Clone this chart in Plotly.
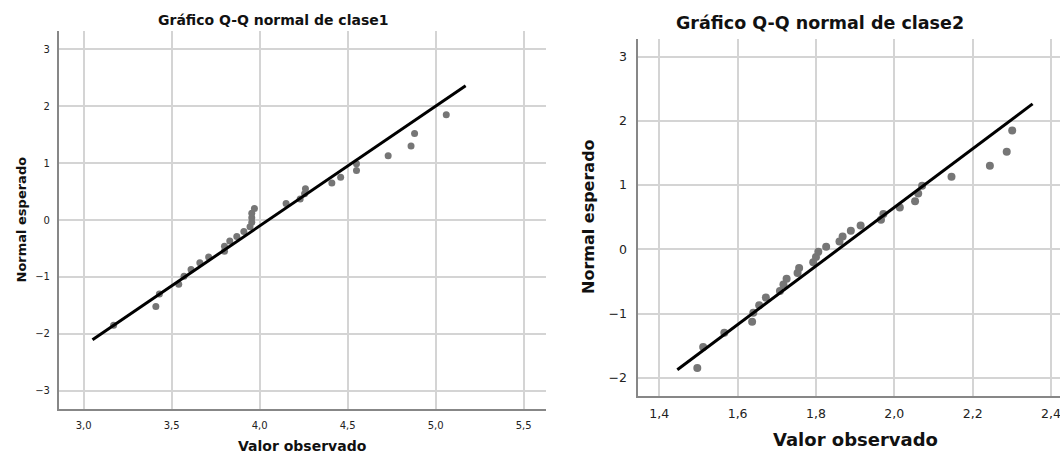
import numpy as np
import plotly.graph_objects as go

# ---- clase1: observed values and their expected normal scores ----
clase1_obs = [3.17, 3.41, 3.43, 3.54, 3.57, 3.61, 3.66, 3.71, 3.80, 3.80,
              3.83, 3.87, 3.91, 3.945, 3.955, 3.955, 3.955, 3.97, 4.15, 4.23,
              4.255, 4.26, 4.41, 4.46, 4.55, 4.55, 4.73, 4.86, 4.88, 5.06]
clase1_exp = [-1.85, -1.52, -1.30, -1.13, -0.99, -0.87, -0.75, -0.65, -0.55, -0.46,
              -0.37, -0.29, -0.20, -0.12, -0.04, 0.04, 0.12, 0.20, 0.29, 0.37,
              0.46, 0.55, 0.65, 0.75, 0.87, 0.99, 1.13, 1.30, 1.52, 1.85]
clase1_line_x = [3.05, 5.17]

# ---- clase2 ----
clase2_obs = [1.497, 1.512, 1.566, 1.637, 1.640, 1.655, 1.672, 1.708, 1.717, 1.725,
              1.753, 1.757, 1.793, 1.800, 1.806, 1.826, 1.860, 1.868, 1.889, 1.914,
              1.966, 1.972, 2.014, 2.053, 2.061, 2.071, 2.146, 2.244, 2.287, 2.301]
clase2_exp = [-1.85, -1.52, -1.30, -1.13, -0.99, -0.87, -0.75, -0.65, -0.55, -0.46,
              -0.37, -0.29, -0.20, -0.12, -0.04, 0.04, 0.12, 0.20, 0.29, 0.37,
              0.46, 0.55, 0.65, 0.75, 0.87, 0.99, 1.13, 1.30, 1.52, 1.85]
clase2_line_x = [1.446, 2.353]

x1_ticks = [3.0, 3.5, 4.0, 4.5, 5.0, 5.5]
y1_ticks = [-3, -2, -1, 0, 1, 2, 3]
x2_ticks = [1.4, 1.6, 1.8, 2.0, 2.2, 2.4]
y2_ticks = [-2, -1, 0, 1, 2, 3]

W, H = 1060, 453
FONT = "DejaVu Sans"
DOT = "rgb(118,118,118)"
GRID = "rgb(212,212,212)"
AXIS = "rgb(135,135,135)"


def ref_line(obs, xs):
    """Normal reference line y = (x - mean) / sd."""
    obs = np.asarray(obs)
    m, s = obs.mean(), obs.std(ddof=1)
    xs = np.asarray(xs)
    return xs, (xs - m) / s


fig = go.Figure()

for obs, exp, lx, xa, ya, msize in [
    (clase1_obs, clase1_exp, clase1_line_x, "x", "y", 7),
    (clase2_obs, clase2_exp, clase2_line_x, "x2", "y2", 8),
]:
    fig.add_trace(go.Scatter(
        x=obs, y=exp, mode="markers", xaxis=xa, yaxis=ya,
        marker=dict(color=DOT, size=msize, line=dict(width=0)),
        showlegend=False, hoverinfo="x+y"))
    lxs, lys = ref_line(obs, lx)
    fig.add_trace(go.Scatter(
        x=lxs, y=lys, mode="lines", xaxis=xa, yaxis=ya,
        line=dict(color="black", width=3),
        showlegend=False, hoverinfo="skip"))


def px(x):
    return x / W


def py(y):
    return 1 - y / H


common_axis = dict(showgrid=True, gridcolor=GRID, gridwidth=1.5,
                   showline=True, linecolor=AXIS, linewidth=1.5,
                   zeroline=False, ticks="", fixedrange=True)

fig.update_layout(
    width=W, height=H,
    margin=dict(l=0, r=0, t=0, b=0),
    paper_bgcolor="white", plot_bgcolor="white",
    separators=",.",
    font=dict(family=FONT, color="#222"),
    xaxis=dict(**common_axis, domain=[px(58.7), px(546.4)], range=[2.858, 5.629],
               tickvals=x1_ticks, tickformat=".1f", anchor="y",
               tickfont=dict(size=10), ticklabelstandoff=6),
    yaxis=dict(**common_axis, domain=[py(409.3), py(30.7)], range=[-3.327, 3.327],
               tickvals=y1_ticks, anchor="x",
               tickfont=dict(size=10), ticklabelstandoff=5),
    xaxis2=dict(**common_axis, domain=[px(638.3), 1.0], range=[1.3464, 2.423],
                tickvals=x2_ticks, tickformat=".1f", anchor="y2",
                tickfont=dict(size=12.5), ticklabelstandoff=5,
                ticklabeloverflow="allow"),
    yaxis2=dict(**common_axis, domain=[py(396), py(39.3)], range=[-2.285, 3.271],
                tickvals=y2_ticks, anchor="x2",
                tickfont=dict(size=12.5), ticklabelstandoff=7),
)

annotations = [
    # clase1 panel
    dict(text="<b>Gráfico Q-Q normal de clase1</b>", x=px(273), y=py(19.5),
         font=dict(size=14)),
    dict(text="<b>Valor observado</b>", x=px(302.7), y=py(445.5),
         font=dict(size=14)),
    dict(text="<b>Normal esperado</b>", x=px(20.5), y=py(220),
         font=dict(size=13), textangle=-90),
    # clase2 panel
    dict(text="<b>Gráfico Q-Q normal de clase2</b>", x=px(820), y=py(22.5),
         font=dict(size=17.5)),
    dict(text="<b>Valor observado</b>", x=px(855), y=py(439),
         font=dict(size=18)),
    dict(text="<b>Normal esperado</b>", x=px(588), y=py(217),
         font=dict(size=16), textangle=-90),
]
for a in annotations:
    a.update(xref="paper", yref="paper", showarrow=False,
             xanchor="center", yanchor="middle")
    a["font"].update(family=FONT, color="#111")
fig.update_layout(annotations=annotations)

fig.write_html("out.html")
